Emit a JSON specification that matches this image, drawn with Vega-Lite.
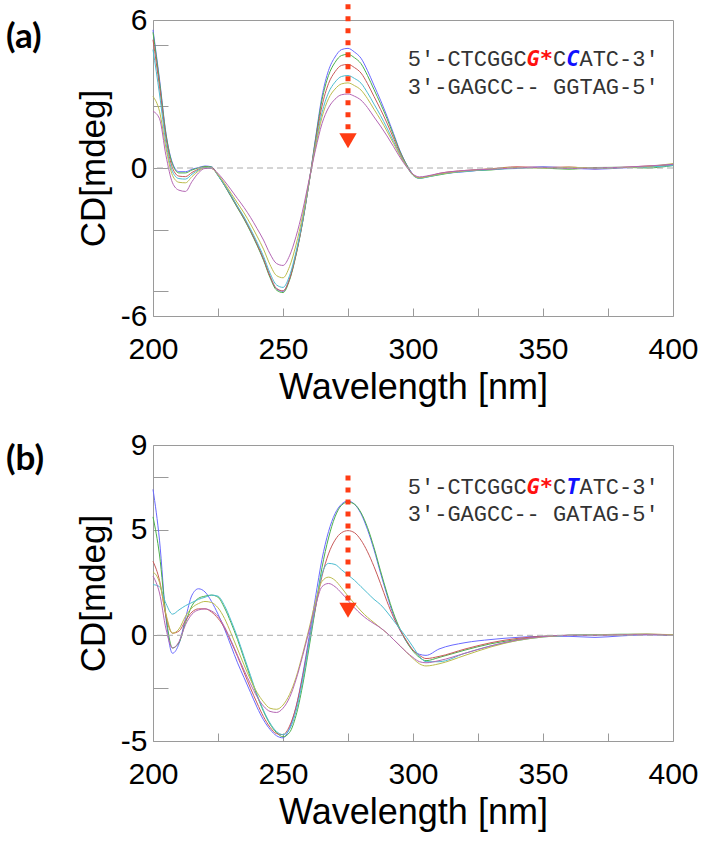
{
  "$schema": "https://vega.github.io/schema/vega-lite/v6.json",
  "background": "white",
  "padding": {"top": 1, "left": 5, "right": 5, "bottom": 5},
  "spacing": 23,
  "config": {
    "view": {"stroke": "#9a9a9a", "strokeWidth": 1},
    "axis": {
      "labelFont": "Liberation Sans", "titleFont": "Liberation Sans",
      "labelColor": "#000", "titleColor": "#000", "titleFontWeight": "normal",
      "domain": false, "grid": false, "tickColor": "#9a9a9a", "tickWidth": 1,
      "labelOverlap": false, "labelFlush": false, "labelBound": false
    }
  },
  "datasets": {
    "a": [
      {"wl":200,"blue":5.6,"green":5.5,"red":5.2,"cyan":4.8,"olive":2.9,"purple":2.3},
      {"wl":202.5,"blue":3.6,"green":3.5,"red":3.3,"cyan":3.0,"olive":2.3,"purple":2.0},
      {"wl":205,"blue":1.4,"green":1.35,"red":1.2,"cyan":1.0,"olive":0.8,"purple":0.5},
      {"wl":207.5,"blue":0.2,"green":0.15,"red":0.0,"cyan":-0.15,"olive":-0.3,"purple":-0.6},
      {"wl":210,"blue":-0.15,"green":-0.2,"red":-0.33,"cyan":-0.43,"olive":-0.58,"purple":-0.9},
      {"wl":212.5,"blue":-0.15,"green":-0.2,"red":-0.35,"cyan":-0.45,"olive":-0.6,"purple":-0.95},
      {"wl":215,"blue":-0.05,"green":-0.08,"red":-0.18,"cyan":-0.25,"olive":-0.35,"purple":-0.55},
      {"wl":217.5,"blue":0.02,"green":0.0,"red":-0.05,"cyan":-0.08,"olive":-0.12,"purple":-0.2},
      {"wl":220,"blue":0.08,"green":0.06,"red":0.03,"cyan":0.02,"olive":0.0,"purple":-0.02},
      {"wl":222.5,"blue":0.05,"green":0.04,"red":0.02,"cyan":0.0,"olive":-0.02,"purple":-0.02},
      {"wl":225,"blue":-0.3,"green":-0.3,"red":-0.28,"cyan":-0.3,"olive":-0.27,"purple":-0.22},
      {"wl":227.5,"blue":-0.7,"green":-0.71,"red":-0.68,"cyan":-0.68,"olive":-0.62,"purple":-0.53},
      {"wl":230,"blue":-1.15,"green":-1.16,"red":-1.12,"cyan":-1.1,"olive":-1.02,"purple":-0.88},
      {"wl":232.5,"blue":-1.6,"green":-1.62,"red":-1.58,"cyan":-1.55,"olive":-1.42,"purple":-1.24},
      {"wl":235,"blue":-2.05,"green":-2.07,"red":-2.03,"cyan":-1.98,"olive":-1.82,"purple":-1.6},
      {"wl":237.5,"blue":-2.55,"green":-2.58,"red":-2.53,"cyan":-2.47,"olive":-2.27,"purple":-2.0},
      {"wl":240,"blue":-3.1,"green":-3.13,"red":-3.08,"cyan":-3.0,"olive":-2.76,"purple":-2.45},
      {"wl":242.5,"blue":-3.7,"green":-3.74,"red":-3.68,"cyan":-3.58,"olive":-3.29,"purple":-2.92},
      {"wl":245,"blue":-4.4,"green":-4.44,"red":-4.38,"cyan":-4.26,"olive":-3.92,"purple":-3.48},
      {"wl":247.5,"blue":-4.9,"green":-4.95,"red":-4.88,"cyan":-4.74,"olive":-4.36,"purple":-3.87},
      {"wl":250,"blue":-5.0,"green":-5.05,"red":-4.98,"cyan":-4.84,"olive":-4.45,"purple":-3.95},
      {"wl":252.5,"blue":-4.5,"green":-4.55,"red":-4.5,"cyan":-4.37,"olive":-4.0,"purple":-3.56},
      {"wl":255,"blue":-3.5,"green":-3.54,"red":-3.5,"cyan":-3.4,"olive":-3.12,"purple":-2.78},
      {"wl":257.5,"blue":-2.2,"green":-2.22,"red":-2.2,"cyan":-2.14,"olive":-1.96,"purple":-1.75},
      {"wl":260,"blue":-0.6,"green":-0.6,"red":-0.62,"cyan":-0.6,"olive":-0.55,"purple":-0.5},
      {"wl":262.5,"blue":1.2,"green":1.14,"red":1.04,"cyan":0.93,"olive":0.85,"purple":0.74},
      {"wl":265,"blue":2.9,"green":2.76,"red":2.51,"cyan":2.24,"olive":2.06,"purple":1.8},
      {"wl":267.5,"blue":3.95,"green":3.75,"red":3.42,"cyan":3.05,"olive":2.81,"purple":2.44},
      {"wl":270,"blue":4.5,"green":4.28,"red":3.9,"cyan":3.48,"olive":3.2,"purple":2.79},
      {"wl":272.5,"blue":4.8,"green":4.56,"red":4.16,"cyan":3.71,"olive":3.41,"purple":2.97},
      {"wl":275,"blue":4.85,"green":4.61,"red":4.2,"cyan":3.75,"olive":3.45,"purple":3.0},
      {"wl":277.5,"blue":4.7,"green":4.47,"red":4.07,"cyan":3.63,"olive":3.34,"purple":2.91},
      {"wl":280,"blue":4.45,"green":4.23,"red":3.85,"cyan":3.44,"olive":3.16,"purple":2.75},
      {"wl":282.5,"blue":3.95,"green":3.75,"red":3.42,"cyan":3.05,"olive":2.81,"purple":2.45},
      {"wl":285,"blue":3.35,"green":3.18,"red":2.9,"cyan":2.59,"olive":2.38,"purple":2.07},
      {"wl":287.5,"blue":2.75,"green":2.61,"red":2.38,"cyan":2.13,"olive":1.96,"purple":1.7},
      {"wl":290,"blue":2.1,"green":2.0,"red":1.82,"cyan":1.62,"olive":1.49,"purple":1.3},
      {"wl":292.5,"blue":1.4,"green":1.33,"red":1.21,"cyan":1.08,"olive":1.0,"purple":0.87},
      {"wl":295,"blue":0.7,"green":0.67,"red":0.6,"cyan":0.54,"olive":0.5,"purple":0.43},
      {"wl":297.5,"blue":0.15,"green":0.14,"red":0.1,"cyan":0.08,"olive":0.07,"purple":0.05},
      {"wl":300,"blue":-0.25,"green":-0.27,"red":-0.28,"cyan":-0.3,"olive":-0.28,"purple":-0.25},
      {"wl":302.5,"blue":-0.4,"green":-0.42,"red":-0.4,"cyan":-0.42,"olive":-0.4,"purple":-0.36},
      {"wl":305,"blue":-0.35,"green":-0.37,"red":-0.36,"cyan":-0.38,"olive":-0.36,"purple":-0.33},
      {"wl":310,"blue":-0.25,"green":-0.28,"red":-0.22,"cyan":-0.26,"olive":-0.25,"purple":-0.22},
      {"wl":320,"blue":-0.15,"green":-0.12,"red":-0.1,"cyan":-0.14,"olive":-0.12,"purple":-0.1},
      {"wl":330,"blue":-0.05,"green":-0.08,"red":-0.03,"cyan":-0.06,"olive":-0.04,"purple":-0.05},
      {"wl":340,"blue":0.0,"green":0.02,"red":0.05,"cyan":-0.02,"olive":0.02,"purple":0.0},
      {"wl":350,"blue":0.05,"green":0.0,"red":0.02,"cyan":0.03,"olive":0.0,"purple":0.03},
      {"wl":360,"blue":0.0,"green":-0.05,"red":0.04,"cyan":0.0,"olive":0.03,"purple":-0.02},
      {"wl":370,"blue":-0.05,"green":0.02,"red":-0.03,"cyan":-0.02,"olive":0.0,"purple":0.0},
      {"wl":380,"blue":0.0,"green":0.03,"red":0.02,"cyan":0.02,"olive":0.02,"purple":0.03},
      {"wl":390,"blue":0.05,"green":0.0,"red":0.08,"cyan":0.04,"olive":0.06,"purple":0.08},
      {"wl":400,"blue":0.15,"green":0.1,"red":0.12,"cyan":0.1,"olive":0.18,"purple":0.15}
    ],
    "b": [
      {"wl":200,"blue":6.9,"green":5.6,"red":3.5,"cyan":2.4,"olive":3.0,"purple":2.8},
      {"wl":202.5,"blue":4.5,"green":3.8,"red":2.6,"cyan":2.3,"olive":2.5,"purple":2.0},
      {"wl":205,"blue":0.8,"green":0.9,"red":0.9,"cyan":1.5,"olive":1.0,"purple":0.3},
      {"wl":207.5,"blue":-0.85,"green":-0.6,"red":0.1,"cyan":1.0,"olive":0.1,"purple":-0.6},
      {"wl":210,"blue":-0.4,"green":-0.35,"red":0.2,"cyan":1.2,"olive":0.3,"purple":-0.3},
      {"wl":212.5,"blue":0.8,"green":0.6,"red":0.7,"cyan":1.4,"olive":0.9,"purple":0.5},
      {"wl":215,"blue":1.9,"green":1.4,"red":1.1,"cyan":1.55,"olive":1.3,"purple":1.0},
      {"wl":217.5,"blue":2.2,"green":1.75,"red":1.25,"cyan":1.7,"olive":1.5,"purple":1.2},
      {"wl":220,"blue":2.05,"green":1.85,"red":1.25,"cyan":1.8,"olive":1.6,"purple":1.25},
      {"wl":222.5,"blue":1.6,"green":1.9,"red":1.1,"cyan":1.9,"olive":1.55,"purple":1.15},
      {"wl":225,"blue":1.0,"green":1.8,"red":0.8,"cyan":1.85,"olive":1.3,"purple":0.9},
      {"wl":227.5,"blue":0.3,"green":1.3,"red":0.35,"cyan":1.4,"olive":0.8,"purple":0.4},
      {"wl":230,"blue":-0.5,"green":0.6,"red":-0.3,"cyan":0.7,"olive":0.1,"purple":-0.25},
      {"wl":232.5,"blue":-1.3,"green":-0.2,"red":-1.0,"cyan":-0.1,"olive":-0.65,"purple":-0.95},
      {"wl":235,"blue":-2.0,"green":-1.1,"red":-1.75,"cyan":-1.0,"olive":-1.4,"purple":-1.65},
      {"wl":237.5,"blue":-2.7,"green":-2.0,"red":-2.5,"cyan":-1.9,"olive":-2.1,"purple":-2.3},
      {"wl":240,"blue":-3.4,"green":-2.85,"red":-3.2,"cyan":-2.8,"olive":-2.7,"purple":-2.9},
      {"wl":242.5,"blue":-4.0,"green":-3.6,"red":-3.85,"cyan":-3.55,"olive":-3.15,"purple":-3.35},
      {"wl":245,"blue":-4.45,"green":-4.2,"red":-4.35,"cyan":-4.15,"olive":-3.45,"purple":-3.6},
      {"wl":247.5,"blue":-4.75,"green":-4.6,"red":-4.65,"cyan":-4.55,"olive":-3.5,"purple":-3.65},
      {"wl":250,"blue":-4.85,"green":-4.8,"red":-4.7,"cyan":-4.7,"olive":-3.3,"purple":-3.45},
      {"wl":252.5,"blue":-4.4,"green":-4.6,"red":-4.3,"cyan":-4.45,"olive":-2.8,"purple":-2.95},
      {"wl":255,"blue":-3.4,"green":-3.8,"red":-3.4,"cyan":-3.6,"olive":-2.0,"purple":-2.1},
      {"wl":257.5,"blue":-1.9,"green":-2.4,"red":-2.0,"cyan":-2.2,"olive":-0.9,"purple":-1.0},
      {"wl":260,"blue":-0.1,"green":-0.6,"red":-0.3,"cyan":-0.4,"olive":0.3,"purple":0.2},
      {"wl":262.5,"blue":1.8,"green":1.3,"red":1.3,"cyan":1.4,"olive":1.6,"purple":1.4},
      {"wl":265,"blue":3.6,"green":3.2,"red":2.8,"cyan":2.9,"olive":2.55,"purple":2.3},
      {"wl":267.5,"blue":4.9,"green":4.6,"red":3.85,"cyan":3.4,"olive":2.75,"purple":2.45},
      {"wl":270,"blue":5.75,"green":5.6,"red":4.5,"cyan":3.35,"olive":2.6,"purple":2.3},
      {"wl":272.5,"blue":6.2,"green":6.15,"red":4.85,"cyan":3.1,"olive":2.25,"purple":2.0},
      {"wl":275,"blue":6.35,"green":6.3,"red":4.95,"cyan":2.85,"olive":1.85,"purple":1.65},
      {"wl":277.5,"blue":6.2,"green":6.2,"red":4.85,"cyan":2.6,"olive":1.5,"purple":1.3},
      {"wl":280,"blue":5.75,"green":5.8,"red":4.5,"cyan":2.3,"olive":1.15,"purple":1.0},
      {"wl":282.5,"blue":5.0,"green":5.1,"red":3.95,"cyan":2.0,"olive":0.85,"purple":0.75},
      {"wl":285,"blue":4.05,"green":4.15,"red":3.25,"cyan":1.7,"olive":0.6,"purple":0.55},
      {"wl":287.5,"blue":2.95,"green":3.05,"red":2.45,"cyan":1.45,"olive":0.35,"purple":0.35},
      {"wl":290,"blue":1.9,"green":2.0,"red":1.6,"cyan":1.1,"olive":0.1,"purple":0.1},
      {"wl":292.5,"blue":0.95,"green":1.05,"red":0.85,"cyan":0.7,"olive":-0.2,"purple":-0.2},
      {"wl":295,"blue":0.25,"green":0.3,"red":0.25,"cyan":0.3,"olive":-0.5,"purple":-0.5},
      {"wl":297.5,"blue":-0.3,"green":-0.3,"red":-0.25,"cyan":-0.1,"olive":-0.8,"purple":-0.8},
      {"wl":300,"blue":-0.7,"green":-0.75,"red":-0.7,"cyan":-0.55,"olive":-1.1,"purple":-1.05},
      {"wl":302.5,"blue":-0.9,"green":-1.05,"red":-0.95,"cyan":-1.0,"olive":-1.35,"purple":-1.25},
      {"wl":305,"blue":-0.95,"green":-1.2,"red":-1.1,"cyan":-1.25,"olive":-1.45,"purple":-1.3},
      {"wl":310,"blue":-0.65,"green":-1.05,"red":-1.0,"cyan":-1.25,"olive":-1.35,"purple":-1.2},
      {"wl":320,"blue":-0.35,"green":-0.7,"red":-0.65,"cyan":-0.85,"olive":-0.95,"purple":-0.85},
      {"wl":330,"blue":-0.2,"green":-0.4,"red":-0.35,"cyan":-0.5,"olive":-0.55,"purple":-0.5},
      {"wl":340,"blue":-0.1,"green":-0.2,"red":-0.15,"cyan":-0.25,"olive":-0.25,"purple":-0.22},
      {"wl":350,"blue":-0.05,"green":-0.05,"red":-0.05,"cyan":-0.08,"olive":-0.08,"purple":-0.06},
      {"wl":360,"blue":-0.05,"green":0.0,"red":0.0,"cyan":0.0,"olive":0.0,"purple":0.0},
      {"wl":370,"blue":-0.1,"green":0.02,"red":0.0,"cyan":0.03,"olive":0.02,"purple":0.0},
      {"wl":380,"blue":-0.03,"green":0.05,"red":0.03,"cyan":0.02,"olive":0.03,"purple":0.02},
      {"wl":390,"blue":0.02,"green":0.05,"red":0.05,"cyan":0.04,"olive":0.05,"purple":0.03},
      {"wl":400,"blue":0.0,"green":0.0,"red":0.02,"cyan":0.02,"olive":0.03,"purple":0.0}
    ],
    "arrA": [{"wl":275,"top":6.64,"bottom":1.45,"head":1.1}],
    "arrB": [{"wl":275,"top":7.56,"bottom":1.55,"head":1.18}],
    "seqA": [
      {"wl":298,"cd":4.13,"part":"black","txt":"5′-CTCGGC\u00a0\u00a0C\u00a0ATC-3′"},
      {"wl":298,"cd":2.99,"part":"black","txt":"3′-GAGCC--\u00a0GGTAG-5′"},
      {"wl":343.7,"cd":4.13,"part":"red","txt":"G*"},
      {"wl":358.9,"cd":4.13,"part":"blue","txt":"C"}
    ],
    "seqB": [
      {"wl":298,"cd":6.69,"part":"black","txt":"5′-CTCGGC\u00a0\u00a0C\u00a0ATC-3′"},
      {"wl":298,"cd":5.42,"part":"black","txt":"3′-GAGCC--\u00a0GATAG-5′"},
      {"wl":343.7,"cd":6.69,"part":"red","txt":"G*"},
      {"wl":358.9,"cd":6.69,"part":"blue","txt":"T"}
    ]
  },
  "vconcat": [
    {
      "width": 520, "height": 296,
      "title": {"text": "(a)", "anchor": "start", "frame": "group", "orient": "top", "font": "Lato", "fontWeight": "bold", "fontSize": 35, "color": "#000", "baseline": "top", "offset": 0, "dx": -147, "dy": 53},
      "layer": [
        {
          "data": {"name": "a"},
          "transform": [{"fold": ["blue","green","red","cyan","olive","purple"], "as": ["series","cd"]}],
          "mark": {"type": "line", "interpolate": "monotone", "strokeWidth": 1},
          "encoding": {
            "x": {"field": "wl", "type": "quantitative", "scale": {"domain": [200,400], "nice": false, "zero": false},
                  "axis": {"values": [200,225,250,275,300,325,350,375,400], "labelExpr": "datum.value % 50 === 0 ? datum.label : ''", "tickSize": -8, "labelPadding": 26, "labelFontSize": 30, "title": "Wavelength [nm]", "titleFontSize": 36, "titlePadding": 6}},
            "y": {"field": "cd", "type": "quantitative", "scale": {"domain": [-6,6], "nice": false, "zero": false},
                  "axis": {"values": [-6,-5,-2.5,0,2.5,5,6], "labelExpr": "(datum.value === -6 || datum.value === 0 || datum.value === 6) ? replace(datum.label, '−', '-') : ''", "tickSize": -15, "labelPadding": 21, "labelFontSize": 30, "title": "CD[mdeg]", "titleFontSize": 35, "titlePadding": 9}},
            "color": {"field": "series", "type": "nominal", "legend": null,
                      "scale": {"domain": ["blue","green","red","cyan","olive","purple"], "range": ["#6a6aff","#4cb04c","#c85a5a","#4cbcd0","#bcbc4c","#b466b4"]}}
          }
        },
        {
          "data": {"values": [{}]},
          "mark": {"type": "rule", "color": "#aaaaaa", "strokeDash": [6,4], "strokeWidth": 1},
          "encoding": {"y": {"datum": 0}}
        },
        {
          "data": {"name": "arrA"},
          "mark": {"type": "rule", "color": "#ff3c14", "strokeWidth": 5, "strokeDash": [5,7]},
          "encoding": {"x": {"field": "wl", "type": "quantitative"}, "y": {"field": "top", "type": "quantitative"}, "y2": {"field": "bottom"}}
        },
        {
          "data": {"name": "arrA"},
          "mark": {"type": "point", "shape": "triangle-down", "filled": true, "size": 300, "color": "#ff3c14", "opacity": 1},
          "encoding": {"x": {"field": "wl", "type": "quantitative"}, "y": {"field": "head", "type": "quantitative"}}
        },
        {
          "data": {"name": "seqA"},
          "transform": [{"filter": "datum.part === 'black'"}],
          "mark": {"type": "text", "font": "Liberation Mono", "fontSize": 22, "align": "left", "baseline": "alphabetic", "color": "#333333"},
          "encoding": {"x": {"field": "wl", "type": "quantitative"}, "y": {"field": "cd", "type": "quantitative"}, "text": {"field": "txt"}}
        },
        {
          "data": {"name": "seqA"},
          "transform": [{"filter": "datum.part === 'red'"}],
          "mark": {"type": "text", "font": "DejaVu Sans Mono", "fontSize": 22, "fontWeight": "bold", "fontStyle": "italic", "align": "left", "baseline": "alphabetic", "color": "#ff1010"},
          "encoding": {"x": {"field": "wl", "type": "quantitative"}, "y": {"field": "cd", "type": "quantitative"}, "text": {"field": "txt"}}
        },
        {
          "data": {"name": "seqA"},
          "transform": [{"filter": "datum.part === 'blue'"}],
          "mark": {"type": "text", "font": "DejaVu Sans Mono", "fontSize": 22, "fontWeight": "bold", "fontStyle": "italic", "align": "left", "baseline": "alphabetic", "color": "#1010ff"},
          "encoding": {"x": {"field": "wl", "type": "quantitative"}, "y": {"field": "cd", "type": "quantitative"}, "text": {"field": "txt"}}
        }
      ]
    },
    {
      "width": 520, "height": 296,
      "title": {"text": "(b)", "anchor": "start", "frame": "group", "orient": "top", "font": "Lato", "fontWeight": "bold", "fontSize": 35, "color": "#000", "baseline": "top", "offset": 0, "dx": -147, "dy": 47},
      "layer": [
        {
          "data": {"name": "b"},
          "transform": [{"fold": ["blue","green","red","cyan","olive","purple"], "as": ["series","cd"]}],
          "mark": {"type": "line", "interpolate": "monotone", "strokeWidth": 1},
          "encoding": {
            "x": {"field": "wl", "type": "quantitative", "scale": {"domain": [200,400], "nice": false, "zero": false},
                  "axis": {"values": [200,225,250,275,300,325,350,375,400], "labelExpr": "datum.value % 50 === 0 ? datum.label : ''", "tickSize": -8, "labelPadding": 26, "labelFontSize": 30, "title": "Wavelength [nm]", "titleFontSize": 36, "titlePadding": 6}},
            "y": {"field": "cd", "type": "quantitative", "scale": {"domain": [-5,9], "nice": false, "zero": false},
                  "axis": {"values": [-5,-2.5,0,5,7.5,9], "labelExpr": "(datum.value === -5 || datum.value === 0 || datum.value === 5 || datum.value === 9) ? replace(datum.label, '−', '-') : ''", "tickSize": -15, "labelPadding": 21, "labelFontSize": 30, "title": "CD[mdeg]", "titleFontSize": 35, "titlePadding": 9}},
            "color": {"field": "series", "type": "nominal", "legend": null,
                      "scale": {"domain": ["blue","green","red","cyan","olive","purple"], "range": ["#6a6aff","#4cb04c","#c85a5a","#4cbcd0","#bcbc4c","#b466b4"]}}
          }
        },
        {
          "data": {"values": [{}]},
          "mark": {"type": "rule", "color": "#aaaaaa", "strokeDash": [6,4], "strokeWidth": 1},
          "encoding": {"y": {"datum": 0}}
        },
        {
          "data": {"name": "arrB"},
          "mark": {"type": "rule", "color": "#ff3c14", "strokeWidth": 5, "strokeDash": [5,7]},
          "encoding": {"x": {"field": "wl", "type": "quantitative"}, "y": {"field": "top", "type": "quantitative"}, "y2": {"field": "bottom"}}
        },
        {
          "data": {"name": "arrB"},
          "mark": {"type": "point", "shape": "triangle-down", "filled": true, "size": 300, "color": "#ff3c14", "opacity": 1},
          "encoding": {"x": {"field": "wl", "type": "quantitative"}, "y": {"field": "head", "type": "quantitative"}}
        },
        {
          "data": {"name": "seqB"},
          "transform": [{"filter": "datum.part === 'black'"}],
          "mark": {"type": "text", "font": "Liberation Mono", "fontSize": 22, "align": "left", "baseline": "alphabetic", "color": "#333333"},
          "encoding": {"x": {"field": "wl", "type": "quantitative"}, "y": {"field": "cd", "type": "quantitative"}, "text": {"field": "txt"}}
        },
        {
          "data": {"name": "seqB"},
          "transform": [{"filter": "datum.part === 'red'"}],
          "mark": {"type": "text", "font": "DejaVu Sans Mono", "fontSize": 22, "fontWeight": "bold", "fontStyle": "italic", "align": "left", "baseline": "alphabetic", "color": "#ff1010"},
          "encoding": {"x": {"field": "wl", "type": "quantitative"}, "y": {"field": "cd", "type": "quantitative"}, "text": {"field": "txt"}}
        },
        {
          "data": {"name": "seqB"},
          "transform": [{"filter": "datum.part === 'blue'"}],
          "mark": {"type": "text", "font": "DejaVu Sans Mono", "fontSize": 22, "fontWeight": "bold", "fontStyle": "italic", "align": "left", "baseline": "alphabetic", "color": "#1010ff"},
          "encoding": {"x": {"field": "wl", "type": "quantitative"}, "y": {"field": "cd", "type": "quantitative"}, "text": {"field": "txt"}}
        }
      ]
    }
  ]
}
